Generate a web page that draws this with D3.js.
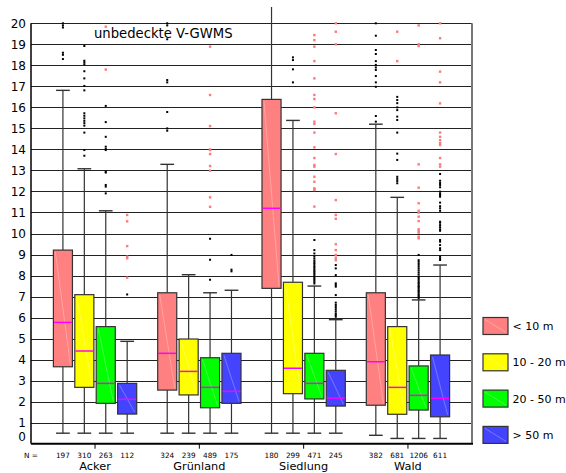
<!DOCTYPE html>
<html>
<head>
<meta charset="utf-8">
<script src="https://cdn.jsdelivr.net/npm/d3@7"></script>
<style>
  body { margin: 0; background: #fff; }
  svg { font-family: "DejaVu Sans", sans-serif; }
</style>
</head>
<body>
<svg id="chart" width="566" height="473"></svg>
<script>
const groups = ['Acker', 'Grünland', 'Siedlung', 'Wald'];
const cats = ['< 10 m', '10 - 20 m', '20 - 50 m', '> 50 m'];
const colors = ['#FF8080', '#FFFF00', '#00FF00', '#4444FF'];
const yTicks = d3.range(0, 21);

// N per box [group][cat]
const counts = [[197, 310, 263, 112], [324, 239, 489, 175], [180, 299, 471, 245], [382, 681, 1206, 611]];

// box statistics [group][cat]
const whiskLo = [[0.5, 0.5, 0.5, 0.5], [0.5, 0.5, 0.5, 0.5], [0.5, 0.5, 0.5, 0.5], [0.4, 0.25, 0.25, 0.25]];
const q1 = [[3.66, 2.68, 1.92, 1.41], [2.55, 2.32, 1.71, 1.92], [7.39, 2.38, 2.13, 1.79], [1.83, 1.4, 1.6, 1.28]];
const median = [[5.77, 4.41, 2.87, 2.11], [4.3, 3.44, 2.68, 2.49], [11.2, 3.59, 2.87, 2.17], [3.9, 2.68, 2.3, 2.16]];
const q3 = [[9.21, 7.09, 5.57, 2.87], [7.18, 4.98, 4.09, 4.3], [16.38, 7.68, 4.3, 3.49], [7.18, 5.57, 3.7, 4.22]];
const whiskHi = [[16.81, 13.08, 11.08, 4.87], [13.29, 8.04, 7.18, 7.3], [20.8, 15.38, 7.5, 5.9], [15.2, 11.72, 6.84, 8.5]];

// outliers (black) [group][cat]
const outliers = [
  [[18.3, 18.5, 18.6, 19.8, 19.9, 20.0],
   [13.7, 13.97, 14.8, 15.13, 15.25, 15.36, 15.48, 15.6, 15.72, 16.81, 17.02, 17.38, 17.72, 18.05, 18.14, 18.22, 18.92],
   [11.91, 12.23, 12.31, 12.9, 12.94, 13.97, 14.02, 14.13, 14.6, 15.3, 16.07],
   [7.1]],
  [[14.89, 15.0, 15.78, 17.19, 17.3, 19.24, 19.9, 20.0],
   [],
   [7.8, 8.75, 9.75],
   [8.2, 8.28, 8.98]],
  [[],
   [17.19, 17.81, 18.25, 18.38],
   [7.62, 7.7, 7.78, 7.85, 7.92, 8.0, 8.08, 8.15, 8.22, 8.3, 8.38, 8.45, 8.55, 8.62, 8.7, 8.8, 8.9, 9.05, 9.21, 9.69],
   [6.04, 6.12, 6.2, 6.3, 6.4, 6.5, 6.6, 6.71, 7.07, 7.47, 7.55, 7.63, 8.02, 8.34, 8.5]],
  [[15.32, 15.59, 16.98, 17.19, 17.49, 17.78, 17.9, 18.02, 18.2, 18.54, 18.73, 19.41, 20.0],
   [12.39, 12.5, 12.6, 12.7, 13.5, 13.8, 14.8, 15.4, 15.56, 15.87, 16.0, 16.2, 16.35, 16.5],
   [6.92, 6.98, 7.05, 7.1, 7.18, 7.25, 7.3, 7.38, 7.45, 7.5, 7.58, 7.65, 7.72, 7.8, 7.88, 7.95, 8.05, 8.15, 8.25, 8.35, 8.45, 8.55, 8.65, 8.73, 8.98],
   [8.74, 8.82, 8.9, 9.21, 9.3, 9.45, 9.61, 9.69, 10.13, 10.2, 10.3, 10.4, 10.51, 10.56, 11.08, 11.2, 11.3, 11.47, 11.75, 11.83, 11.9, 11.99, 12.2, 12.31, 12.4, 12.51, 12.83]]
];

// extremes (pink) [group][cat]
const extremes = [
  [[], [], [17.8, 19.84], [7.9, 8.82, 8.9, 9.4, 10.58, 10.88]],
  [[], [], [11.27, 11.72, 12.99, 13.21, 13.78, 13.97, 14.0, 15.11, 16.59, 18.89], []],
  [[], [],
   [11.28, 12.07, 12.1, 12.15, 12.46, 12.7, 13.18, 13.26, 13.59, 14.1, 14.8, 15.21, 15.32, 16.0, 16.4, 16.59, 17.38, 18.2, 18.89, 19.2, 19.44],
   [8.73, 8.85, 8.98, 9.21, 9.49, 10.7, 10.88, 11.59, 13.78, 15.72, 19.0, 19.6, 20.0]],
  [[], [18.2, 19.6],
   [9.77, 9.85, 10.04, 10.12, 10.2, 10.59, 10.8, 10.99, 11.08, 11.44, 12.18, 13.29, 18.92, 19.0, 19.9],
   [13.18, 13.29, 13.59, 14.21, 14.3, 14.44, 14.6, 14.8, 16.19, 17.19, 17.7, 19.29, 20.0]]
];

const svg = d3.select('#chart');
const plotLeft = 31, plotRight = 472, plotTop = 23.3, plotBottom = 443.7;

const y = d3.scaleLinear().domain([0, 20]).range([plotBottom, plotTop]);
const x0 = d3.scaleBand().domain(groups).range([plotLeft, plotRight]).paddingOuter(0.114);
const x1 = d3.scaleBand().domain(cats).range([0, x0.bandwidth()]).paddingInner(0.11).paddingOuter(0.49);
const bw = x1.bandwidth();
const capW = bw * 0.72;

// gridlines
svg.append('g').selectAll('line')
  .data(yTicks.filter(d => d > 0))
  .enter().append('line')
  .attr('x1', plotLeft).attr('x2', plotRight)
  .attr('y1', d => Math.round(y(d)) + 0.5).attr('y2', d => Math.round(y(d)) + 0.5)
  .attr('stroke', '#222').attr('stroke-width', 1);

// y tick labels
svg.append('g').selectAll('text')
  .data(yTicks)
  .enter().append('text')
  .attr('x', 26)
  .attr('y', d => d === 0 ? y(0) - 7 : y(d))
  .attr('dy', '0.36em')
  .attr('text-anchor', 'end')
  .attr('font-size', '12px')
  .attr('fill', '#000')
  .text(d => d);

// title
svg.append('text')
  .attr('x', 94).attr('y', 37.5)
  .attr('font-size', '13.2px')
  .text('unbedeckte V-GWMS');

// boxes
groups.forEach((g, gi) => {
  cats.forEach((c, ci) => {
    const bx = x0(g) + x1(c);
    const cx = bx + bw / 2;
    const box = svg.append('g');

    // whiskers
    const hiY = Math.max(y(whiskHi[gi][ci]), 7);
    box.append('line').attr('x1', cx).attr('x2', cx)
      .attr('y1', y(q3[gi][ci])).attr('y2', hiY)
      .attr('stroke', '#333').attr('stroke-width', 1.2);
    box.append('line').attr('x1', cx).attr('x2', cx)
      .attr('y1', y(q1[gi][ci])).attr('y2', y(whiskLo[gi][ci]))
      .attr('stroke', '#333').attr('stroke-width', 1.2);
    if (whiskHi[gi][ci] <= 20) {
      box.append('line').attr('x1', cx - capW / 2).attr('x2', cx + capW / 2)
        .attr('y1', y(whiskHi[gi][ci])).attr('y2', y(whiskHi[gi][ci]))
        .attr('stroke', '#333').attr('stroke-width', 1.4);
    }
    box.append('line').attr('x1', cx - capW / 2).attr('x2', cx + capW / 2)
      .attr('y1', y(whiskLo[gi][ci])).attr('y2', y(whiskLo[gi][ci]))
      .attr('stroke', '#333').attr('stroke-width', 1.4);

    // box
    box.append('rect')
      .attr('x', bx).attr('y', y(q3[gi][ci]))
      .attr('width', bw).attr('height', y(q1[gi][ci]) - y(q3[gi][ci]))
      .attr('fill', colors[ci]).attr('stroke', '#333').attr('stroke-width', 1.2);
    box.append('line')
      .attr('x1', bx + 2).attr('y1', y(q3[gi][ci]) + 2)
      .attr('x2', bx + bw - 2).attr('y2', y(q1[gi][ci]) - 2)
      .attr('stroke', '#fff').attr('stroke-opacity', 0.35).attr('stroke-width', 0.8);
    box.append('line')
      .attr('x1', bx + 0.6).attr('x2', bx + bw - 0.6)
      .attr('y1', y(median[gi][ci])).attr('y2', y(median[gi][ci]))
      .attr('stroke', '#FF00FF').attr('stroke-width', 1.5);

    // outliers and extremes
    box.selectAll('.out')
      .data(outliers[gi][ci]).enter().append('rect')
      .attr('x', cx - 1).attr('y', d => y(d) - 1)
      .attr('width', 2).attr('height', 2).attr('fill', '#000');
    box.selectAll('.ext')
      .data(extremes[gi][ci]).enter().append('rect')
      .attr('x', cx - 1.2).attr('y', d => y(d) - 1.2)
      .attr('width', 2.4).attr('height', 2.4).attr('fill', '#FF7A7A');

    // N labels
    svg.append('text')
      .attr('x', cx).attr('y', 457.5)
      .attr('text-anchor', 'middle')
      .attr('font-size', '7.3px')
      .text(counts[gi][ci]);
  });
});

// frame
svg.append('line').attr('x1', plotRight).attr('x2', plotRight).attr('y1', plotTop).attr('y2', plotBottom)
  .attr('stroke', '#777').attr('stroke-width', 2);
svg.append('line').attr('x1', plotLeft).attr('x2', plotLeft).attr('y1', plotTop).attr('y2', plotBottom)
  .attr('stroke', '#000').attr('stroke-width', 1.5);
svg.append('line').attr('x1', plotLeft).attr('x2', plotRight + 1).attr('y1', plotBottom).attr('y2', plotBottom)
  .attr('stroke', '#000').attr('stroke-width', 2);

// group ticks and labels
svg.append('g').selectAll('line')
  .data(groups).enter().append('line')
  .attr('x1', d => x0(d) + x0.bandwidth() / 2).attr('x2', d => x0(d) + x0.bandwidth() / 2)
  .attr('y1', plotBottom).attr('y2', plotBottom + 5)
  .attr('stroke', '#000').attr('stroke-width', 1);
svg.append('g').selectAll('text')
  .data(groups).enter().append('text')
  .attr('x', d => x0(d) + x0.bandwidth() / 2)
  .attr('y', 469.5)
  .attr('text-anchor', 'middle')
  .attr('font-size', '11.3px')
  .text(d => d);

svg.append('text')
  .attr('x', 24).attr('y', 457.5)
  .attr('font-size', '7.3px')
  .text('N =');

// legend
const legend = svg.append('g').selectAll('g')
  .data(cats).enter().append('g')
  .attr('transform', (d, i) => `translate(483, ${317.5 + i * 36.3})`);
legend.append('rect')
  .attr('width', 25).attr('height', 17)
  .attr('fill', (d, i) => colors[i]).attr('stroke', '#333').attr('stroke-width', 1.2);
legend.append('line')
  .attr('x1', 2).attr('y1', 2).attr('x2', 23).attr('y2', 15)
  .attr('stroke', '#fff').attr('stroke-opacity', 0.35).attr('stroke-width', 0.8);
legend.append('text')
  .attr('x', 29.5).attr('y', 8.5).attr('dy', '0.36em')
  .attr('font-size', '11px')
  .text(d => d);
</script>
</body>
</html>
